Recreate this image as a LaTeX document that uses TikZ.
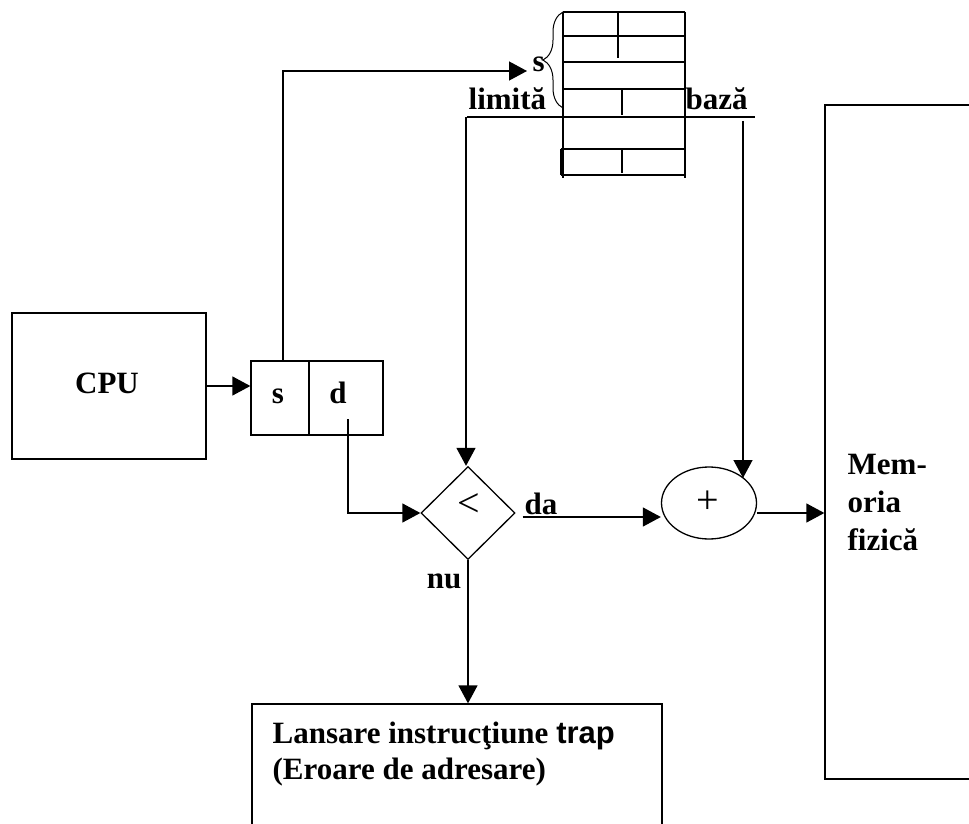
\documentclass[tikz,border=0pt]{standalone}
\usepackage{fontspec}
\setmainfont{Liberation Serif}
\newfontfamily\arialfont{Liberation Sans}
\usetikzlibrary{arrows.meta,shapes.geometric,decorations.pathreplacing}
\begin{document}
\begin{tikzpicture}[x=1pt,y=1pt,
  line width=1.3pt,
  arr/.style={-{Triangle[length=18pt,width=19pt]}},
  box/.style={draw, rectangle, inner sep=0pt},
  lbl/.style={inner sep=0pt, font=\fontsize{31}{38}\selectfont\bfseries},
  sym/.style={inner sep=0pt, font=\fontsize{40}{44}\selectfont}
]
\useasboundingbox (0,0) rectangle (969,-824);

% CPU
\node[box, minimum width=194pt, minimum height=146pt] (cpu) at (109,-386) {};
\node[lbl, anchor=base] (cputxt) at (107,-393) {CPU};

% logical address register
\node[box, minimum width=58pt, minimum height=74pt] (scell) at (280,-398) {};
\node[box, minimum width=74pt, minimum height=74pt] (dcell) at (346,-398) {};
\node[lbl, anchor=base] (stxt) at (278,-403) {s};
\node[lbl, anchor=base] (dtxt) at (338,-403) {d};

% segment table
\draw (563,-12) -- (563,-178) (685,-12) -- (685,-178);
\draw (563,-12) -- (685,-12) (563,-36) -- (685,-36) (563,-62) -- (685,-62) (563,-89) -- (685,-89);
\draw (467,-117) -- (755,-117);
\draw (561,-149) -- (685,-149) (561,-175) -- (685,-175) (561,-149) -- (561,-175);
\draw (618,-12) -- (618,-58) (622,-89) -- (622,-115) (622,-149) -- (622,-173);
\draw[line width=1pt, decorate, decoration={brace, amplitude=20pt}] (563,-108) -- (563,-12);

\node[lbl, anchor=base west] (slabel) at (532,-72) {s};
\node[lbl, anchor=base west] (limtxt) at (468,-110) {limită};
\node[lbl, anchor=base west] (baztxt) at (685,-110) {bază};
\coordinate (limit) at (466,-117);
\coordinate (base) at (743,-121);
\coordinate (addin) at (743,-478);

% compare
\node[draw, diamond, minimum width=94pt, minimum height=93pt, inner sep=0pt] (cmp) at (468,-513) {};
\node[sym] (lt) at (469,-505) {<};

% adder
\node[draw, ellipse, minimum width=95pt, minimum height=72pt, inner sep=0pt] (add) at (709,-503) {};
\node[sym] (plus) at (708,-502) {+};

% open boxes (cut by the picture border)
\begin{scope}
\clip (0,0) rectangle (969,-824);
\node[box, minimum width=200pt, minimum height=674pt] (mem) at (925,-442) {};
\node[box, minimum width=410pt, minimum height=200pt] (trap) at (457,-804) {};
\end{scope}

\node[lbl, anchor=base west] (mem1) at (847,-474) {Mem-};
\node[lbl, anchor=base west] (mem2) at (847,-512) {oria};
\node[lbl, anchor=base west] (mem3) at (847,-550) {fizică};

\node[lbl, anchor=base west] (trap1) at (272,-743) {Lansare instrucţiune {\arialfont\bfseries trap}};
\node[lbl, anchor=base west] (trap2) at (272,-779) {(Eroare de adresare)};

\node[lbl, anchor=base west] (datxt) at (524,-514) {da};
\node[lbl, anchor=base] (nutxt) at (444,-588) {nu};

% connectors
\draw[arr] (cpu.east) -- (cpu.east -| scell.west);
\draw[arr] ([xshift=3pt]scell.north) |- ([xshift=-5pt,yshift=1pt]slabel.base west);
\draw[arr] (limit) -- (limit |- cmp.north);
\draw[arr] (base) -- (addin);
\draw[arr] ([xshift=2pt,yshift=-21pt]dcell.center) |- (cmp.west);
\draw[arr] ([xshift=7pt,yshift=-4pt]cmp.east) -- ([yshift=-4pt]cmp.east -| add.west);
\draw[arr] ([yshift=-10pt]add.east) -- ([yshift=-10pt]add.east -| mem.west);
\draw[arr] (cmp.south) -- (cmp.south |- trap.north);
\end{tikzpicture}
\end{document}
